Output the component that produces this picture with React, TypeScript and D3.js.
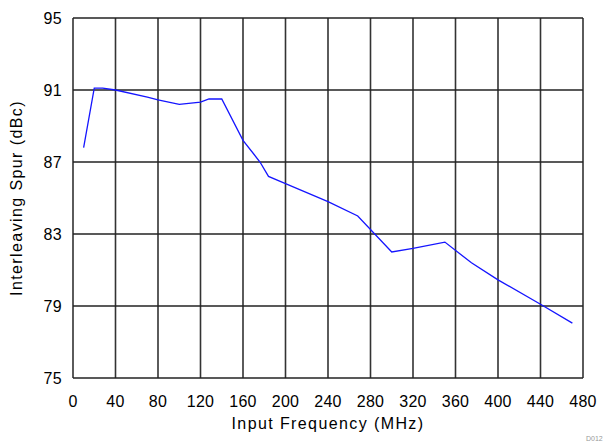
import React from "react"
import * as d3 from "d3"

// Data
const freqMHz = [10, 20, 28, 40, 70, 80, 100, 120, 128, 140, 160, 176, 184, 200, 240, 268, 300, 320, 350, 375, 400, 440, 470]
const spurDBc = [87.8, 91.1, 91.1, 91.0, 90.6, 90.45, 90.2, 90.33, 90.5, 90.5, 88.2, 87.0, 86.2, 85.8, 84.8, 84.0, 82.0, 82.2, 82.55, 81.4, 80.45, 79.1, 78.05]
const xTicks = [0, 40, 80, 120, 160, 200, 240, 280, 320, 360, 400, 440, 480]
const yTicks = [75, 79, 83, 87, 91, 95]

export default function App() {
  // Dimensions
  const totalW = 609
  const totalH = 447
  const margin = { top: 18, bottom: 69, left: 73, right: 26 }
  const w = totalW - margin.left - margin.right
  const h = totalH - margin.top - margin.bottom

  // Scales
  const xScale = d3.scaleLinear().domain([0, 480]).range([0, w])
  const yScale = d3.scaleLinear().domain([75, 95]).range([h, 0])

  const line = d3
    .line<number>()
    .x((d, i) => xScale(freqMHz[i]))
    .y((d) => yScale(d))

  const font = "'Liberation Sans', Arial, sans-serif"

  return (
    <svg
      width={totalW}
      height={totalH}
      style={{ position: "absolute", left: 0, top: 0, background: "#fff" }}
    >
      <g transform={`translate(${margin.left}, ${margin.top})`}>
        {xTicks.map((t) => (
          <line
            key={`vx-${t}`}
            x1={xScale(t)}
            x2={xScale(t)}
            y1={0}
            y2={h}
            stroke="#333"
            strokeWidth={1.6}
          />
        ))}
        {yTicks.map((t) => (
          <line
            key={`hy-${t}`}
            x1={0}
            x2={w}
            y1={yScale(t)}
            y2={yScale(t)}
            stroke="#222"
            strokeWidth={1.3}
          />
        ))}
        <path d={line(spurDBc) || ""} fill="none" stroke="#1515ff" strokeWidth={1.3} />
        {xTicks.map((t) => (
          <text
            key={`xl-${t}`}
            x={xScale(t)}
            y={h + 29}
            fontSize="16px"
            fontFamily={font}
            letterSpacing="0.3px"
            textAnchor="middle"
            fill="#000"
          >
            {t}
          </text>
        ))}
        {yTicks.map((t) => (
          <text
            key={`yl-${t}`}
            x={-11}
            y={yScale(t) + 5.5}
            fontSize="16px"
            fontFamily={font}
            letterSpacing="0.3px"
            textAnchor="end"
            fill="#000"
          >
            {t}
          </text>
        ))}
        <text
          x={w / 2}
          y={h + 51}
          fontSize="16px"
          fontFamily={font}
          letterSpacing="1.4px"
          textAnchor="middle"
          fill="#000"
        >
          Input Frequency (MHz)
        </text>
        <text
          transform={`translate(${-51}, ${h / 2}) rotate(-90)`}
          fontSize="16px"
          fontFamily={font}
          letterSpacing="1.4px"
          textAnchor="middle"
          fill="#000"
        >
          Interleaving Spur (dBc)
        </text>
      </g>
      <text x={586} y={441} fontSize="7px" fontFamily={font} fill="#999">
        D012
      </text>
    </svg>
  )
}
